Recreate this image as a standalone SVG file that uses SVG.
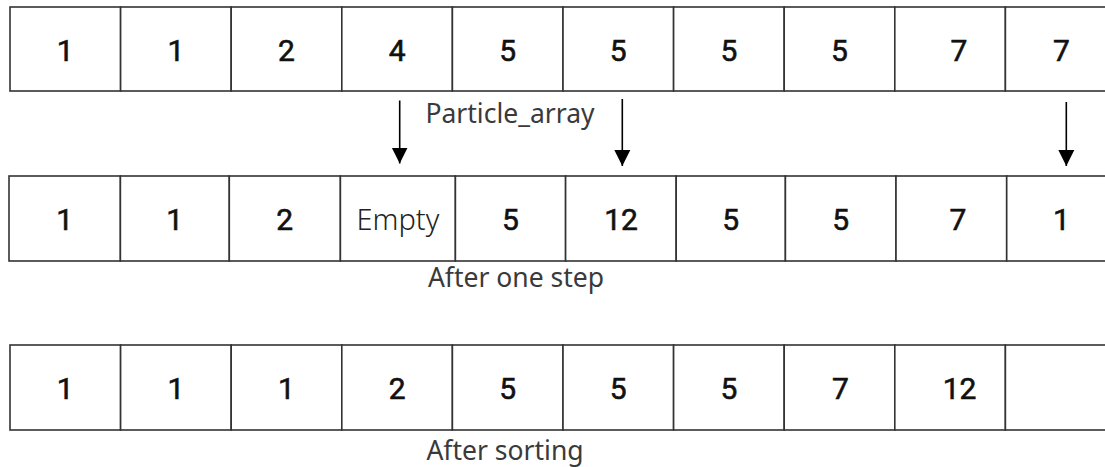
<svg xmlns="http://www.w3.org/2000/svg" width="1105" height="467" viewBox="0 0 1105 467">
<style>
.cell{fill:#fff;stroke:#333;stroke-width:1.6}
.num{font-family:Roboto,"Liberation Sans",sans-serif;font-size:30px;font-weight:400;fill:#111;stroke:#111;stroke-width:0.6;text-anchor:middle}
.lbl{font-family:"Noto Sans","Open Sans",sans-serif;font-size:26.5px;font-weight:400;fill:#3a3a3a;text-anchor:middle}
.emp{font-family:"Noto Sans","Open Sans",sans-serif;font-size:29px;font-weight:300;fill:#222;text-anchor:middle}
.arr{stroke:#000;stroke-width:1.6;fill:none}
</style>
<defs>
<marker id="ah" markerUnits="userSpaceOnUse" markerWidth="18" markerHeight="18" viewBox="0 0 18 18" refX="16" refY="9" orient="auto">
<path d="M0,1 L16,9 L0,17 Z" fill="#000"/>
</marker>
</defs>
<rect width="1105" height="467" fill="#fff"/>

<g id="row1">
<g id="r1c0"><rect class="cell" x="10" y="7" width="110.6" height="84"/><text class="num" x="65.3" y="61">1</text></g>
<g id="r1c1"><rect class="cell" x="120.6" y="7" width="110.6" height="84"/><text class="num" x="175.9" y="61">1</text></g>
<g id="r1c2"><rect class="cell" x="231.2" y="7" width="110.6" height="84"/><text class="num" x="286.5" y="61">2</text></g>
<g id="r1c3"><rect class="cell" x="341.8" y="7" width="110.6" height="84"/><text class="num" x="397.1" y="61">4</text></g>
<g id="r1c4"><rect class="cell" x="452.4" y="7" width="110.6" height="84"/><text class="num" x="507.7" y="61">5</text></g>
<g id="r1c5"><rect class="cell" x="563" y="7" width="110.6" height="84"/><text class="num" x="618.3" y="61">5</text></g>
<g id="r1c6"><rect class="cell" x="673.6" y="7" width="110.6" height="84"/><text class="num" x="728.9" y="61">5</text></g>
<g id="r1c7"><rect class="cell" x="784.2" y="7" width="110.6" height="84"/><text class="num" x="839.5" y="61">5</text></g>
<g id="r1c8"><rect class="cell" x="894.8" y="7" width="110.6" height="84"/><text class="num" x="959" y="61">7</text></g>
<g id="r1c9"><rect class="cell" x="1005.4" y="7" width="110.6" height="84"/><text class="num" x="1061.5" y="61">7</text></g>
</g>
<g id="label1"><text class="lbl" x="510" y="123">Particle_array</text></g>

<g id="row2">
<g id="r2c0"><rect class="cell" x="9" y="176" width="111.4" height="85"/><text class="num" x="64.7" y="230">1</text></g>
<g id="r2c1"><rect class="cell" x="120.4" y="176" width="108.9" height="85"/><text class="num" x="174.8" y="230">1</text></g>
<g id="r2c2"><rect class="cell" x="229.3" y="176" width="111.1" height="85"/><text class="num" x="284.8" y="230">2</text></g>
<g id="r2c3"><rect class="cell" x="340.4" y="176" width="115" height="85"/><text class="emp" x="397.9" y="230">Empty</text></g>
<g id="r2c4"><rect class="cell" x="455.4" y="176" width="110.2" height="85"/><text class="num" x="510.5" y="230">5</text></g>
<g id="r2c5"><rect class="cell" x="565.6" y="176" width="110.6" height="85"/><text class="num" x="621" y="230">12</text></g>
<g id="r2c6"><rect class="cell" x="676.2" y="176" width="109.2" height="85"/><text class="num" x="730.8" y="230">5</text></g>
<g id="r2c7"><rect class="cell" x="785.4" y="176" width="110.6" height="85"/><text class="num" x="840.7" y="230">5</text></g>
<g id="r2c8"><rect class="cell" x="896" y="176" width="110.7" height="85"/><text class="num" x="958" y="230">7</text></g>
<g id="r2c9"><rect class="cell" x="1006.7" y="176" width="110.6" height="85"/><text class="num" x="1061.5" y="230">1</text></g>
</g>
<g id="label2"><text class="lbl" x="516" y="287">After one step</text></g>

<g id="row3">
<g id="r3c0"><rect class="cell" x="10" y="345" width="110.6" height="85"/><text class="num" x="65.3" y="399">1</text></g>
<g id="r3c1"><rect class="cell" x="120.6" y="345" width="110.6" height="85"/><text class="num" x="175.9" y="399">1</text></g>
<g id="r3c2"><rect class="cell" x="231.2" y="345" width="110.6" height="85"/><text class="num" x="286.5" y="399">1</text></g>
<g id="r3c3"><rect class="cell" x="341.8" y="345" width="110.6" height="85"/><text class="num" x="397.1" y="399">2</text></g>
<g id="r3c4"><rect class="cell" x="452.4" y="345" width="110.6" height="85"/><text class="num" x="507.7" y="399">5</text></g>
<g id="r3c5"><rect class="cell" x="563" y="345" width="110.6" height="85"/><text class="num" x="618.3" y="399">5</text></g>
<g id="r3c6"><rect class="cell" x="673.6" y="345" width="110.6" height="85"/><text class="num" x="728.9" y="399">5</text></g>
<g id="r3c7"><rect class="cell" x="784.2" y="345" width="110.6" height="85"/><text class="num" x="840.5" y="399">7</text></g>
<g id="r3c8"><rect class="cell" x="894.8" y="345" width="110.6" height="85"/><text class="num" x="959.5" y="399">12</text></g>
<g id="r3c9"><rect class="cell" x="1005.4" y="345" width="110.6" height="85"/></g>
</g>
<g id="label3"><text class="lbl" x="505" y="460">After sorting</text></g>

<g id="connectors">
<line class="arr" x1="399.7" y1="100.5" x2="399.7" y2="163.5" marker-end="url(#ah)"/>
<line class="arr" x1="622.3" y1="99" x2="622.3" y2="166" marker-end="url(#ah)"/>
<line class="arr" x1="1066.3" y1="102" x2="1066.3" y2="166" marker-end="url(#ah)"/>
</g>
</svg>
